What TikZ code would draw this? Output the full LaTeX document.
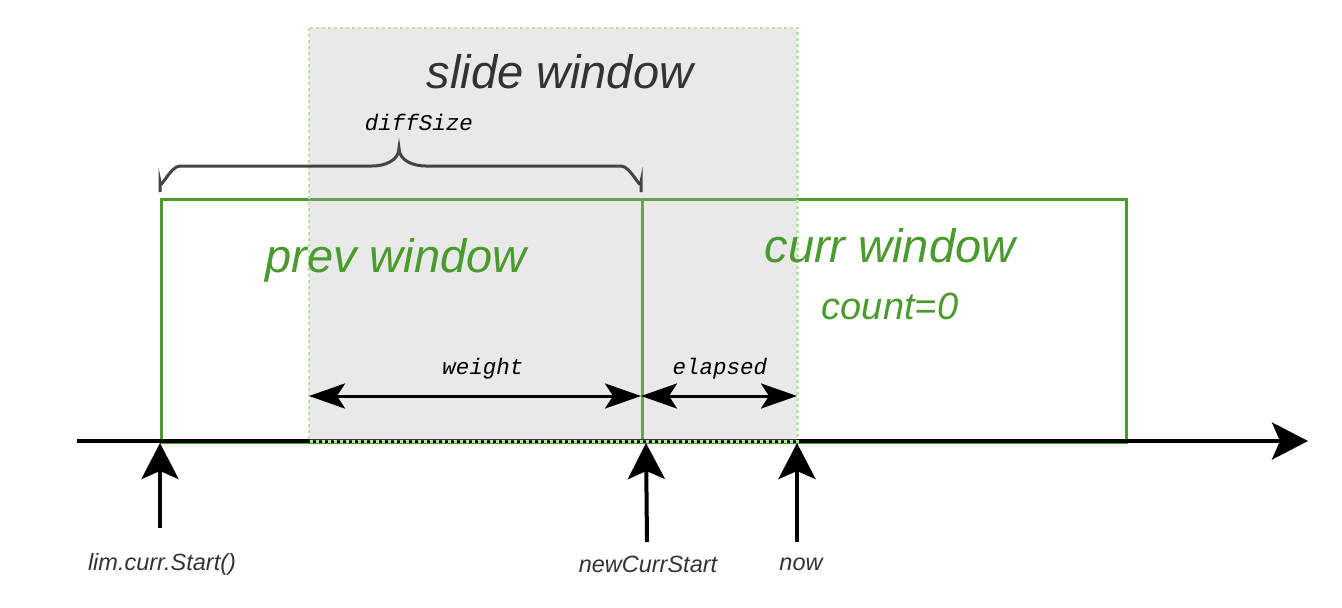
\documentclass[tikz,border=0pt]{standalone}
\usepackage{fontspec}
\setmainfont{Liberation Sans}
\setmonofont{Liberation Mono}
\usetikzlibrary{arrows.meta}
\definecolor{wgreen}{RGB}{74,154,46}
\definecolor{slidegray}{RGB}{182,182,182}
\definecolor{slideborder}{RGB}{185,224,165}
\definecolor{darktext}{RGB}{51,51,51}
\definecolor{bracecol}{RGB}{68,68,68}
\tikzset{
  winbox/.style={draw=wgreen, line width=3pt},
  slidebox/.style={fill=slidegray, fill opacity=0.3},
  slideedge/.style={draw=slideborder, line width=2.4pt, dash pattern=on 3pt off 3pt},
  axisline/.style={line width=4pt, -{Stealth[length=36pt,width=37pt,inset=8pt]}},
  uparrow/.style={line width=4pt, -{Stealth[length=36pt,width=37pt,inset=8pt]}},
  dblarrow/.style={line width=3pt, {Stealth[length=36pt,width=25pt,inset=8pt]}-{Stealth[length=36pt,width=25pt,inset=8pt]}},
  bigitalic/.style={font=\fontsize{47}{52}\selectfont\itshape},
  wintext/.style={text=wgreen, font=\fontsize{47}{52}\selectfont\itshape},
  codetext/.style={text=black, font=\fontsize{22.5}{26}\selectfont\ttfamily\itshape},
  labeltext/.style={text=darktext, font=\fontsize{23.5}{26}\selectfont\itshape},
  bracestyle/.style={draw=bracecol, line width=3pt}
}
\begin{document}
\begin{tikzpicture}[x=1pt,y=-1pt]
\useasboundingbox (0,0) rectangle (1342,608);
% windows
\node[winbox, minimum width=481pt, minimum height=243pt, inner sep=0pt, anchor=north west] (prev) at (160,198) {};
\node[winbox, minimum width=484pt, minimum height=243pt, inner sep=0pt, anchor=north west] (curr) at (641,198) {};
% axis
\coordinate (axs) at (77,441);
\coordinate (axe) at (1308,441);
\draw[axisline] (axs) -- (axe);
% slide window
\node[slidebox, minimum width=488pt, minimum height=413pt, inner sep=0pt, anchor=north west] (slide) at (309,28) {};
\draw[slideedge] (slide.north west) rectangle (slide.south east);
% texts
\node[bigitalic, text=darktext] (slidelbl) at (560,72) {slide window};
\node[wintext] (prevlbl) at (396,260) {prev window};
\node[wintext] (currlbl) at (890,246) {curr window};
\node[text=wgreen, font=\fontsize{38}{42}\selectfont\itshape] (countlbl) at (890,306) {count=0};
\node[codetext] (difflbl) at (419,122) {diffSize};
\node[codetext] (weightlbl) at (483,369) {weight};
\node[codetext] (elapsedlbl) at (720,369) {elapsed};
% brace
\coordinate (bl) at (160,192);
\coordinate (br) at (641,192);
\coordinate (btip) at (399,148);
\draw[bracestyle] (bl) -- (160,182) to[out=-90,in=180] (180,166) -- (372,166) to[out=0,in=-90] (btip)
  to[out=-90,in=180] (426,166) -- (621,166) to[out=0,in=-90] (641,182) -- (br);
% double arrows
\coordinate (wl) at (309,396);
\coordinate (wm) at (641,396);
\coordinate (er) at (797,396);
\draw[dblarrow] (wl) -- (wm);
\draw[dblarrow] (wm) -- (er);
% up arrows
\coordinate (t1) at (160,443);
\coordinate (t2) at (646,443);
\coordinate (t3) at (797,443);
\coordinate (s1) at (160,528);
\coordinate (s2) at (647,542);
\coordinate (s3) at (797,542);
\draw[uparrow] (s1) -- (t1);
\draw[uparrow] (s2) -- (t2);
\draw[uparrow] (s3) -- (t3);
% labels
\node[labeltext] (l1) at (162,564) {lim.curr.Start()};
\node[labeltext] (l2) at (648,564) {newCurrStart};
\node[labeltext] (l3) at (801,564) {now};
\end{tikzpicture}
\end{document}
